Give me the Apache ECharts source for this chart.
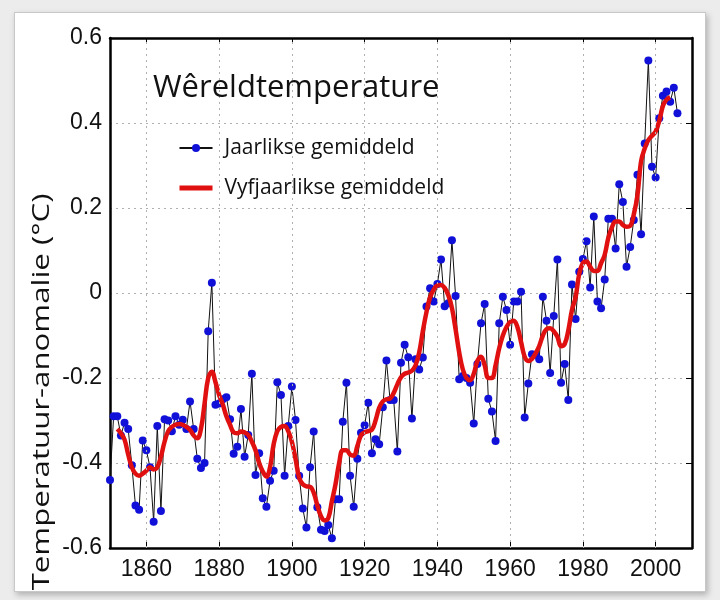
<!DOCTYPE html>
<html>
<head>
<meta charset="utf-8">
<script src="https://cdn.jsdelivr.net/npm/echarts@6/dist/echarts.min.js"></script>
<style>
html,body{margin:0;padding:0;background:#ececec;}
#frame{position:absolute;left:14px;top:12px;width:690px;height:578px;background:#fff;border:1px solid #c8c8c8;box-shadow:2px 3px 6px rgba(0,0,0,0.25);}
#chart{position:absolute;left:0;top:0;width:720px;height:600px;}
</style>
</head>
<body>
<div id="frame"></div>
<div id="chart"></div>
<script>
// ---- data ----
const firstYear = 1850;
const annualValues = [
-0.44,-0.29,-0.29,-0.335,-0.305,-0.32,-0.405,-0.50,-0.51,-0.347, // 1850-1859
-0.37,-0.41,-0.538,-0.313,-0.513,-0.297,-0.30,-0.325,-0.29,-0.31, // 1860-1869
-0.298,-0.32,-0.255,-0.32,-0.39,-0.412,-0.40,-0.09,0.024,-0.263, // 1870-1879
-0.26,-0.25,-0.245,-0.297,-0.378,-0.362,-0.273,-0.385,-0.334,-0.19, // 1880-1889
-0.428,-0.377,-0.483,-0.503,-0.442,-0.418,-0.21,-0.24,-0.43,-0.313, // 1890-1899
-0.22,-0.299,-0.43,-0.507,-0.552,-0.41,-0.326,-0.504,-0.557,-0.56, // 1900-1909
-0.546,-0.577,-0.485,-0.485,-0.303,-0.211,-0.43,-0.503,-0.39,-0.329, // 1910-1919
-0.311,-0.258,-0.377,-0.344,-0.356,-0.269,-0.159,-0.252,-0.252,-0.373, // 1920-1929
-0.164,-0.122,-0.151,-0.295,-0.156,-0.18,-0.152,-0.032,0.011,-0.02, // 1930-1939
0.021,0.079,-0.031,-0.024,0.124,-0.007,-0.203,-0.195,-0.20,-0.211, // 1940-1949
-0.307,-0.167,-0.071,-0.026,-0.249,-0.279,-0.348,-0.071,-0.009,-0.04, // 1950-1959
-0.122,-0.02,-0.02,0.003,-0.293,-0.213,-0.144,-0.145,-0.156,-0.009, // 1960-1969
-0.065,-0.188,-0.054,0.079,-0.211,-0.167,-0.252,0.02,-0.061,0.05, // 1970-1979
0.08,0.122,0.013,0.18,-0.02,-0.036,0.032,0.175,0.175,0.105, // 1980-1989
0.256,0.214,0.062,0.108,0.172,0.278,0.138,0.352,0.547,0.297, // 1990-1999
0.272,0.411,0.464,0.474,0.45,0.483,0.423 // 2000-2006
];
const smoothFirstYear = 1852;
const fiveYearValues = [
-0.32,-0.33,-0.345,-0.38,-0.41,-0.425,-0.43,-0.425, // 1852-1859
-0.418,-0.41,-0.415,-0.41,-0.385,-0.35,-0.325,-0.315,-0.31,-0.308, // 1860-1869
-0.31,-0.315,-0.322,-0.335,-0.342,-0.32,-0.26,-0.20,-0.185,-0.21, // 1870-1879
-0.24,-0.262,-0.29,-0.31,-0.328,-0.33,-0.326,-0.328,-0.334,-0.35, // 1880-1889
-0.37,-0.40,-0.42,-0.432,-0.41,-0.355,-0.325,-0.315,-0.313,-0.325, // 1890-1899
-0.35,-0.39,-0.435,-0.45,-0.455,-0.456,-0.47,-0.50,-0.525,-0.535, // 1900-1909
-0.53,-0.49,-0.45,-0.40,-0.37,-0.37,-0.38,-0.383,-0.36,-0.335, // 1910-1919
-0.328,-0.325,-0.322,-0.30,-0.27,-0.255,-0.25,-0.248,-0.235,-0.215, // 1920-1929
-0.198,-0.19,-0.187,-0.183,-0.17,-0.14,-0.09,-0.045,-0.01,0.008, // 1930-1939
0.018,0.019,0.012,-0.005,-0.035,-0.085,-0.14,-0.18,-0.20,-0.205, // 1940-1949
-0.19,-0.16,-0.15,-0.17,-0.20,-0.20,-0.17,-0.13,-0.10,-0.08, // 1950-1959
-0.068,-0.065,-0.08,-0.115,-0.15,-0.16,-0.155,-0.142,-0.125,-0.10, // 1960-1969
-0.085,-0.083,-0.09,-0.103,-0.125,-0.12,-0.088,-0.04,-0.01,0.045, // 1970-1979
0.07,0.074,0.062,0.052,0.052,0.07,0.09,0.13,0.155,0.168, // 1980-1989
0.168,0.16,0.156,0.158,0.185,0.23,0.31,0.34,0.36,0.37, // 1990-1999
0.38,0.405,0.44,0.455,0.46 // 2000-2004
];
const xTickYears = [1860,1880,1900,1920,1940,1960,1980,2000];
const seriesNames = ['Jaarlikse gemiddeld','Vyfjaarlikse gemiddeld'];
const titleText = 'Wêreldtemperature';
const yAxisTitle = 'Temperatuur-anomalie (°C)';

const annualData = annualValues.map((v,i)=>[firstYear+i, v]);
const fiveYearData = fiveYearValues.map((v,i)=>[smoothFirstYear+i, v]);

const chart = echarts.init(document.getElementById('chart'), null, {renderer:'canvas'});
const tickFont = {fontFamily:'Liberation Sans, Arial, sans-serif', fontSize:23, color:'#111'};
const gridLine = {show:true, lineStyle:{color:'#b0b0b0', type:[2,4], width:1}};

chart.setOption({
  animation:false,
  backgroundColor:'transparent',
  grid:{left:110, right:28, top:38, bottom:52},
  xAxis:[{
    type:'value', min:1850, max:2010, interval:10,
    axisLine:{show:true, onZero:false, lineStyle:{color:'#000', width:2.5}},
    axisTick:{show:true, inside:true, length:6, customValues:xTickYears, lineStyle:{color:'#000'}},
    axisLabel:{show:true, customValues:xTickYears, margin:10, ...tickFont, formatter:v=>String(v)},
    splitLine:{show:false}
  },{
    type:'value', position:'top', min:1850, max:2010, interval:10,
    axisLine:{show:true, onZero:false, lineStyle:{color:'#000', width:2.5}},
    axisTick:{show:true, inside:true, length:6, customValues:xTickYears, lineStyle:{color:'#000'}},
    axisLabel:{show:false}, splitLine:{show:false}
  }],
  yAxis:[{
    type:'value', min:-0.6, max:0.6, interval:0.2,
    axisLine:{show:true, onZero:false, lineStyle:{color:'#000', width:2.5}},
    axisTick:{show:false},
    axisLabel:{...tickFont, margin:8, formatter:v=>Math.abs(v)<1e-9?'0':v.toFixed(1)},
    splitLine:gridLine
  },{
    type:'value', position:'right', min:-0.6, max:0.6, interval:0.2,
    axisLine:{show:true, onZero:false, lineStyle:{color:'#000', width:2.5}},
    axisTick:{show:true, inside:true, length:6, lineStyle:{color:'#000'}},
    axisLabel:{show:false}, splitLine:{show:false}
  }],
  legend:{
    orient:'vertical', left:172, top:130, itemGap:14, itemWidth:33, itemHeight:10,
    data:[
      {name:seriesNames[0]},
      {name:seriesNames[1], itemStyle:{color:'rgba(0,0,0,0)', borderWidth:0, opacity:0}, lineStyle:{color:'#e01010', width:5}}
    ],
    textStyle:{fontFamily:'Open Sans, sans-serif', fontSize:21, color:'#111', padding:[0,0,0,7], lineHeight:26}
  },
  graphic:[
    {type:'text', left:153, top:73, z:100, style:{text:titleText, font:'31px "Open Sans", sans-serif', fill:'#111'}},
    {type:'text', x:42, y:392, rotation:Math.PI/2, scaleX:1.3, z:100, style:{text:yAxisTitle, font:'24px "Open Sans", sans-serif', fill:'#111', textAlign:'center', textVerticalAlign:'middle'}}
  ],
  series:[
    {
      type:'line', name:'_grid', data:[], silent:true, z:0,
      markLine:{silent:true, symbol:'none', label:{show:false},
        lineStyle:{color:'#b0b0b0', type:[2,4], width:1},
        data:xTickYears.map(y=>({xAxis:y}))}
    },
    {
      type:'line', name:seriesNames[0], data:annualData, z:3,
      symbol:'circle', symbolSize:8, showSymbol:true,
      lineStyle:{color:'#111', width:1},
      itemStyle:{color:'#1010d8', borderWidth:0}
    },
    {
      type:'line', name:seriesNames[1], data:fiveYearData, z:4,
      symbol:'none', smooth:0.4,
      lineStyle:{color:'#e01010', width:4.5},
      itemStyle:{color:'#e01010'}
    }
  ]
});
</script>
</body>
</html>
